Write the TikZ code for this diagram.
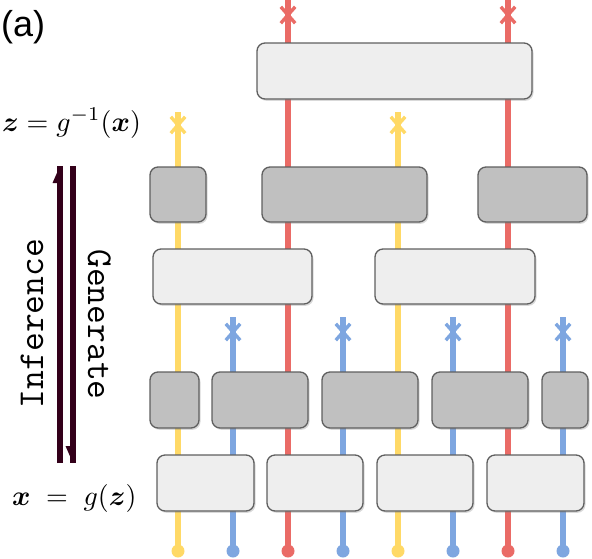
\documentclass[tikz,border=0pt]{standalone}
\usepackage{amsmath}
\usepackage{bm}
\usepackage{graphicx}
\usepackage{fontspec}
\newfontfamily\labelfont{Liberation Sans}
\usetikzlibrary{arrows.meta,shadows,shapes.misc}
\definecolor{wyel}{HTML}{FFD966}
\definecolor{wred}{HTML}{EA6B66}
\definecolor{wblue}{HTML}{7EA6E0}
\definecolor{lightfill}{HTML}{EEEEEE}
\definecolor{darkfill}{HTML}{C0C0C0}
\definecolor{boxedge}{HTML}{5F5F5F}
\definecolor{arrcol}{HTML}{33001A}
\begin{document}
\begin{tikzpicture}[x=1pt,y=-1pt,
  wire/.style={line width=5.5pt},
  enddot/.style={circle,inner sep=0pt,minimum size=13pt},
  xmark/.style={cross out,draw,line width=3.4pt,minimum width=11pt,minimum height=13pt,inner sep=0pt},
  boxbase/.style={rectangle,rounded corners=8pt,draw=boxedge,line width=1.3pt,inner sep=0pt,
    drop shadow={shadow xshift=1.5pt,shadow yshift=-1.8pt,opacity=0.3}},
  lbox/.style={boxbase,fill=lightfill},
  dbox/.style={boxbase,fill=darkfill},
  flow/.style={line width=6pt,draw=arrcol},
  vtext/.style={font=\ttfamily\fontsize{36.5}{36.5}\selectfont,anchor=base,inner sep=0pt},
]
\useasboundingbox (0,0) rectangle (592,558);

% ---- wires ----
\coordinate (r1s) at (288,0);   \node[enddot,fill=wred] (r1e) at (288,551) {};
\coordinate (r2s) at (508,0);   \node[enddot,fill=wred] (r2e) at (508,551) {};
\coordinate (y1s) at (178,112); \node[enddot,fill=wyel] (y1e) at (178,551) {};
\coordinate (y2s) at (398,112); \node[enddot,fill=wyel] (y2e) at (398,551) {};
\coordinate (b1s) at (233,317); \node[enddot,fill=wblue] (b1e) at (233,551) {};
\coordinate (b2s) at (343,317); \node[enddot,fill=wblue] (b2e) at (343,551) {};
\coordinate (b3s) at (453,317); \node[enddot,fill=wblue] (b3e) at (453,551) {};
\coordinate (b4s) at (563,317); \node[enddot,fill=wblue] (b4e) at (563,551) {};

\draw[wire,wred]  (r1s) -- (r1e.center);
\draw[wire,wred]  (r2s) -- (r2e.center);
\draw[wire,wyel]  (y1s) -- (y1e.center);
\draw[wire,wyel]  (y2s) -- (y2e.center);
\draw[wire,wblue] (b1s) -- (b1e.center);
\draw[wire,wblue] (b2s) -- (b2e.center);
\draw[wire,wblue] (b3s) -- (b3e.center);
\draw[wire,wblue] (b4s) -- (b4e.center);

% ---- cross marks ----
\node[xmark,draw=wred]  (xr1) at (288,15) {};
\node[xmark,draw=wred]  (xr2) at (508,15) {};
\node[xmark,draw=wyel]  (xy1) at (178,125) {};
\node[xmark,draw=wyel]  (xy2) at (398,125) {};
\node[xmark,draw=wblue] (xb1) at (233,332) {};
\node[xmark,draw=wblue] (xb2) at (343,332) {};
\node[xmark,draw=wblue] (xb3) at (453,332) {};
\node[xmark,draw=wblue] (xb4) at (563,332) {};

% ---- boxes ----
\node[lbox,minimum width=275pt,minimum height=56pt] (top) at (394.5,71) {};

\node[dbox,minimum width=56pt,minimum height=55pt]  (d41) at (178,194.5) {};
\node[dbox,minimum width=165pt,minimum height=55pt] (d42) at (344.5,194.5) {};
\node[dbox,minimum width=109pt,minimum height=55pt] (d43) at (532.5,194.5) {};

\node[lbox,minimum width=159pt,minimum height=55pt] (l31) at (232.5,276.5) {};
\node[lbox,minimum width=160pt,minimum height=55pt] (l32) at (455,276.5) {};

\node[dbox,minimum width=49pt,minimum height=56pt] (d21) at (174.5,400) {};
\node[dbox,minimum width=96pt,minimum height=56pt] (d22) at (260,400) {};
\node[dbox,minimum width=96pt,minimum height=56pt] (d23) at (370,400) {};
\node[dbox,minimum width=96pt,minimum height=56pt] (d24) at (480,400) {};
\node[dbox,minimum width=46pt,minimum height=56pt] (d25) at (565,400) {};

\node[lbox,minimum width=97pt,minimum height=56pt] (l11) at (205.5,483) {};
\node[lbox,minimum width=96pt,minimum height=56pt] (l12) at (315,483) {};
\node[lbox,minimum width=96pt,minimum height=56pt] (l13) at (425,483) {};
\node[lbox,minimum width=97pt,minimum height=56pt] (l14) at (535.5,483) {};

% ---- inference / generate arrows ----
\coordinate (infs) at (60,463);
\coordinate (infe) at (60,166);
\coordinate (gens) at (73,166);
\coordinate (gene) at (73,463);
\draw[flow] (infs) -- (infe);
\draw[flow] (gens) -- (gene);
\fill[arrcol] (infe) -- ++(-7.5,17) -- ++(7.5,0) -- cycle;
\fill[arrcol] (gene) -- ++(-7.5,-17) -- ++(7.5,0) -- cycle;

\node[vtext,rotate=90] (inf) at (43,323.5) {Inference};
\node[vtext,rotate=-90] (gen) at (88,324.5) {Generate};

% ---- labels ----
\node[anchor=base west,inner sep=0pt,font=\labelfont\fontsize{36}{40}\selectfont] (lbl) at (1,36) {(a)};
\node[anchor=base west,inner sep=0pt] (zlab) at (2,131) {\scalebox{2.8}{$\bm{z} = g^{-1}(\bm{x})$}};
\node[anchor=base west,inner sep=0pt] (xlab) at (12,505) {\scalebox{2.8}{$\bm{x} \;=\; g(\bm{z})$}};
\end{tikzpicture}
\end{document}
